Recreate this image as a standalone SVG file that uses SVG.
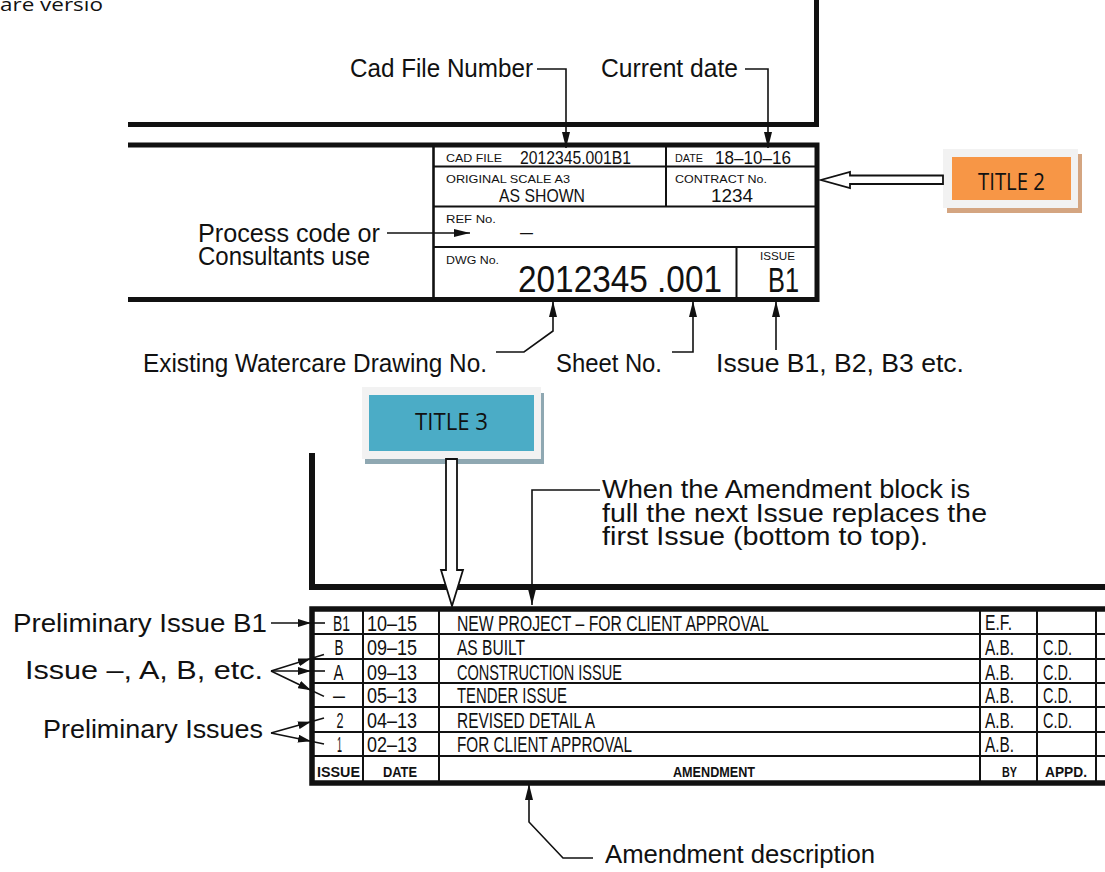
<svg xmlns="http://www.w3.org/2000/svg" width="1105" height="872" viewBox="0 0 1105 872">
<style>
.cad{font-family:"Liberation Sans",Arial,sans-serif;fill:#111}
.lbl{font-size:26px}
.b{font-weight:bold}
.thick{stroke:#111;stroke-width:5;fill:none}
.med{stroke:#111;stroke-width:2.6;fill:none}
.thin{stroke:#111;stroke-width:2;fill:none}
.lead{stroke:#111;stroke-width:1.6;fill:none}
.hollow{fill:#fff;stroke:#111;stroke-width:1.8;stroke-linejoin:miter}
.ttl{font-family:"Open Sans","Liberation Sans",sans-serif;fill:#111;font-size:23px}
</style>
<defs>
<marker id="ah" viewBox="0 0 16 8" refX="16" refY="4" markerWidth="16" markerHeight="8" markerUnits="userSpaceOnUse" orient="auto"><path d="M0,0 L16,4 L0,8 z" fill="#111"/></marker>
<marker id="ah2" viewBox="0 0 13 8" refX="13" refY="4" markerWidth="13" markerHeight="8" markerUnits="userSpaceOnUse" orient="auto"><path d="M0,0 L13,4 L0,8 z" fill="#111"/></marker>
</defs>

<text x="0" y="11" style="font-family:'Open Sans','Liberation Sans',sans-serif;font-size:19px;fill:#111" textLength="103" lengthAdjust="spacingAndGlyphs">are versio</text>

<g id="upper-frame">
<path class="thick" d="M128,124.5 H816.5 V0"/>
<path class="thick" d="M128,145 H817 V299.5 H128"/>
</g>

<g id="title-block">
<path class="med" d="M433.5,145 V299.5"/>
<path class="thin" d="M433.5,166.5 H817 M666,145 V206.5 M433.5,206.5 H817 M433.5,247 H817 M736.5,247 V299.5"/>
<text class="cad" x="446" y="162" font-size="11" textLength="56" lengthAdjust="spacingAndGlyphs">CAD FILE</text>
<text class="cad" x="520" y="164" font-size="18" textLength="111" lengthAdjust="spacingAndGlyphs">2012345.001B1</text>
<text class="cad" x="675" y="162" font-size="11" textLength="28" lengthAdjust="spacingAndGlyphs">DATE</text>
<text class="cad" x="715" y="164" font-size="18" textLength="76" lengthAdjust="spacingAndGlyphs">18–10–16</text>
<text class="cad" x="446" y="183" font-size="11" textLength="124" lengthAdjust="spacingAndGlyphs">ORIGINAL SCALE A3</text>
<text class="cad" x="499" y="202" font-size="19" textLength="86" lengthAdjust="spacingAndGlyphs">AS SHOWN</text>
<text class="cad" x="675" y="183" font-size="11" textLength="92" lengthAdjust="spacingAndGlyphs">CONTRACT No.</text>
<text class="cad" x="711" y="202" font-size="19" textLength="42" lengthAdjust="spacingAndGlyphs">1234</text>
<text class="cad" x="446" y="223" font-size="11" textLength="50" lengthAdjust="spacingAndGlyphs">REF No.</text>
<text class="cad" x="520" y="238" font-size="19" textLength="13" lengthAdjust="spacingAndGlyphs">–</text>
<text class="cad" x="446" y="264" font-size="11" textLength="53" lengthAdjust="spacingAndGlyphs">DWG No.</text>
<text class="cad" x="518" y="292" font-size="37" textLength="204" lengthAdjust="spacingAndGlyphs">2012345 .001</text>
<text class="cad" x="760" y="260" font-size="11" textLength="35" lengthAdjust="spacingAndGlyphs">ISSUE</text>
<text class="cad" x="768" y="292" font-size="35" textLength="31" lengthAdjust="spacingAndGlyphs">B1</text>
</g>

<g id="label-cad-file"><text class="cad lbl" x="350" y="77" textLength="183" lengthAdjust="spacingAndGlyphs">Cad File Number</text></g>
<g id="label-current-date"><text class="cad lbl" x="601" y="77" textLength="137" lengthAdjust="spacingAndGlyphs">Current date</text></g>
<g id="label-process">
<text class="cad lbl"><tspan x="198" y="242" textLength="182" lengthAdjust="spacingAndGlyphs">Process code or</tspan><tspan x="198" y="265" textLength="172" lengthAdjust="spacingAndGlyphs">Consultants use</tspan></text>
</g>
<g id="label-existing"><text class="cad lbl" x="143" y="372" textLength="344" lengthAdjust="spacingAndGlyphs">Existing Watercare Drawing No.</text></g>
<g id="label-sheet"><text class="cad lbl" x="556" y="372" textLength="106" lengthAdjust="spacingAndGlyphs">Sheet No.</text></g>
<g id="label-issue"><text class="cad lbl" x="716" y="372" textLength="248" lengthAdjust="spacingAndGlyphs">Issue B1, B2, B3 etc.</text></g>

<g id="title2">
<rect x="947" y="154" width="135" height="59" fill="#d4a581"/>
<rect x="943" y="149" width="135" height="59" fill="#f2f2f2"/>
<rect x="952" y="157" width="119" height="43" fill="#f79646"/>
<text class="ttl" x="1011.5" y="190" text-anchor="middle" textLength="67" lengthAdjust="spacingAndGlyphs">TITLE 2</text>
</g>

<g id="title3">
<rect x="365" y="393" width="179" height="71" fill="#8fa8b2"/>
<rect x="362" y="387" width="179" height="72" fill="#f2f2f2"/>
<rect x="369" y="395" width="165" height="56" fill="#4bacc6"/>
<text class="ttl" x="451.5" y="430" text-anchor="middle" textLength="73" lengthAdjust="spacingAndGlyphs">TITLE 3</text>
</g>

<g id="lower-frame">
<path class="thick" style="stroke-width:6" d="M312,453 V587 H1105"/>
</g>

<g id="amendment-table">
<path class="thick" style="stroke-width:5.5" d="M1105,609 H312 V783 H1105"/>
<path class="thin" d="M312,634 H1105 M312,659 H1105 M312,683 H1105 M312,707 H1105 M312,732 H1105 M312,756 H1105"/>
<path class="thin" d="M363,609 V783 M439,609 V783 M980,609 V783 M1037,609 V783 M1096,609 V783"/>
<g font-size="22">
<text class="cad" x="341.5" y="631" text-anchor="middle" textLength="17" lengthAdjust="spacingAndGlyphs">B1</text>
<text class="cad" x="339" y="655" text-anchor="middle" textLength="9" lengthAdjust="spacingAndGlyphs">B</text>
<text class="cad" x="338.5" y="680" text-anchor="middle" textLength="10" lengthAdjust="spacingAndGlyphs">A</text>
<text class="cad" x="339" y="703" text-anchor="middle" textLength="12" lengthAdjust="spacingAndGlyphs">–</text>
<text class="cad" x="340" y="728" text-anchor="middle" textLength="7" lengthAdjust="spacingAndGlyphs">2</text>
<text class="cad" x="339.5" y="752" text-anchor="middle" textLength="5" lengthAdjust="spacingAndGlyphs">1</text>
<text class="cad" x="367" y="631" textLength="50" lengthAdjust="spacingAndGlyphs">10–15</text>
<text class="cad" x="367" y="655" textLength="50" lengthAdjust="spacingAndGlyphs">09–15</text>
<text class="cad" x="367" y="680" textLength="50" lengthAdjust="spacingAndGlyphs">09–13</text>
<text class="cad" x="367" y="703" textLength="50" lengthAdjust="spacingAndGlyphs">05–13</text>
<text class="cad" x="367" y="728" textLength="50" lengthAdjust="spacingAndGlyphs">04–13</text>
<text class="cad" x="367" y="752" textLength="50" lengthAdjust="spacingAndGlyphs">02–13</text>
<text class="cad" x="457" y="631" textLength="312" lengthAdjust="spacingAndGlyphs">NEW PROJECT – FOR CLIENT APPROVAL</text>
<text class="cad" x="457" y="655" textLength="68" lengthAdjust="spacingAndGlyphs">AS BUILT</text>
<text class="cad" x="457" y="680" textLength="165" lengthAdjust="spacingAndGlyphs">CONSTRUCTION ISSUE</text>
<text class="cad" x="457" y="703" textLength="110" lengthAdjust="spacingAndGlyphs">TENDER ISSUE</text>
<text class="cad" x="457" y="728" textLength="138" lengthAdjust="spacingAndGlyphs">REVISED DETAIL A</text>
<text class="cad" x="457" y="752" textLength="175" lengthAdjust="spacingAndGlyphs">FOR CLIENT APPROVAL</text>
<text class="cad" x="985" y="630" textLength="27" lengthAdjust="spacingAndGlyphs">E.F.</text>
<text class="cad" x="985" y="655" textLength="29" lengthAdjust="spacingAndGlyphs">A.B.</text>
<text class="cad" x="985" y="680" textLength="29" lengthAdjust="spacingAndGlyphs">A.B.</text>
<text class="cad" x="985" y="703" textLength="29" lengthAdjust="spacingAndGlyphs">A.B.</text>
<text class="cad" x="985" y="728" textLength="29" lengthAdjust="spacingAndGlyphs">A.B.</text>
<text class="cad" x="985" y="752" textLength="29" lengthAdjust="spacingAndGlyphs">A.B.</text>
<text class="cad" x="1043" y="655" textLength="29" lengthAdjust="spacingAndGlyphs">C.D.</text>
<text class="cad" x="1043" y="680" textLength="29" lengthAdjust="spacingAndGlyphs">C.D.</text>
<text class="cad" x="1043" y="703" textLength="29" lengthAdjust="spacingAndGlyphs">C.D.</text>
<text class="cad" x="1043" y="728" textLength="29" lengthAdjust="spacingAndGlyphs">C.D.</text>
</g>
<g font-size="14">
<text class="cad b" x="317" y="777" textLength="43" lengthAdjust="spacingAndGlyphs">ISSUE</text>
<text class="cad b" x="383" y="777" textLength="34" lengthAdjust="spacingAndGlyphs">DATE</text>
<text class="cad b" x="673" y="777" textLength="82" lengthAdjust="spacingAndGlyphs">AMENDMENT</text>
<text class="cad b" x="1002" y="777" textLength="15" lengthAdjust="spacingAndGlyphs">BY</text>
<text class="cad b" x="1045" y="777" textLength="42" lengthAdjust="spacingAndGlyphs">APPD.</text>
</g>
</g>

<g id="label-when">
<text class="cad" style="font-size:25px"><tspan x="602" y="498" textLength="368" lengthAdjust="spacingAndGlyphs">When the Amendment block is</tspan><tspan x="602" y="522" textLength="385" lengthAdjust="spacingAndGlyphs">full the next Issue replaces the</tspan><tspan x="602" y="545" textLength="326" lengthAdjust="spacingAndGlyphs">first Issue (bottom to top).</tspan></text>
</g>
<g id="label-prelim-b1"><text class="cad lbl" x="13" y="632" textLength="254" lengthAdjust="spacingAndGlyphs">Preliminary Issue B1</text></g>
<g id="label-issue-abc"><text class="cad lbl" x="25" y="679" textLength="238" lengthAdjust="spacingAndGlyphs">Issue –, A, B, etc.</text></g>
<g id="label-prelim-issues"><text class="cad lbl" x="43" y="738" textLength="220" lengthAdjust="spacingAndGlyphs">Preliminary Issues</text></g>
<g id="label-amend-desc"><text class="cad lbl" x="605" y="863" textLength="270" lengthAdjust="spacingAndGlyphs">Amendment description</text></g>

<g id="connectors">
<path class="lead" d="M537,69 H566 V148" marker-end="url(#ah)"/>
<path class="lead" d="M745,69 H768 V148" marker-end="url(#ah)"/>
<path class="lead" d="M387,233 H470" marker-end="url(#ah)"/>
<path class="lead" d="M496,352 H524 L553,331 V301" marker-end="url(#ah)"/>
<path class="lead" d="M672,352 H693 V301" marker-end="url(#ah)"/>
<path class="lead" d="M776,350 V301" marker-end="url(#ah)"/>
<polygon class="hollow" points="943,175.5 850,175.5 850,172 821,180 850,188 850,184 943,184"/>
<polygon class="hollow" points="446,459 446,570 441,570 452,606 463,570 457,570 457,459"/>
<path class="lead" d="M600,490 H532 V605" marker-end="url(#ah)"/>
<path class="lead" d="M593,858 H563 L529,822 V784" marker-end="url(#ah)"/>
<path class="lead" d="M271,623 H311" marker-end="url(#ah2)"/>
<path class="lead" d="M311,623 H325"/>
<path class="lead" d="M271,671 L311,658.5" marker-end="url(#ah2)"/>
<path class="lead" d="M311,658.5 L324,654.5"/>
<path class="lead" d="M271,671 H311" marker-end="url(#ah2)"/>
<path class="lead" d="M311,671 H325"/>
<path class="lead" d="M271,671 L311,690.2" marker-end="url(#ah2)"/>
<path class="lead" d="M311,690.2 L324,696.4"/>
<path class="lead" d="M271,733 L311,721.7" marker-end="url(#ah2)"/>
<path class="lead" d="M311,721.7 L324,718"/>
<path class="lead" d="M271,733 L311,741.3" marker-end="url(#ah2)"/>
<path class="lead" d="M311,741.3 L324,744"/>
</g>
</svg>
